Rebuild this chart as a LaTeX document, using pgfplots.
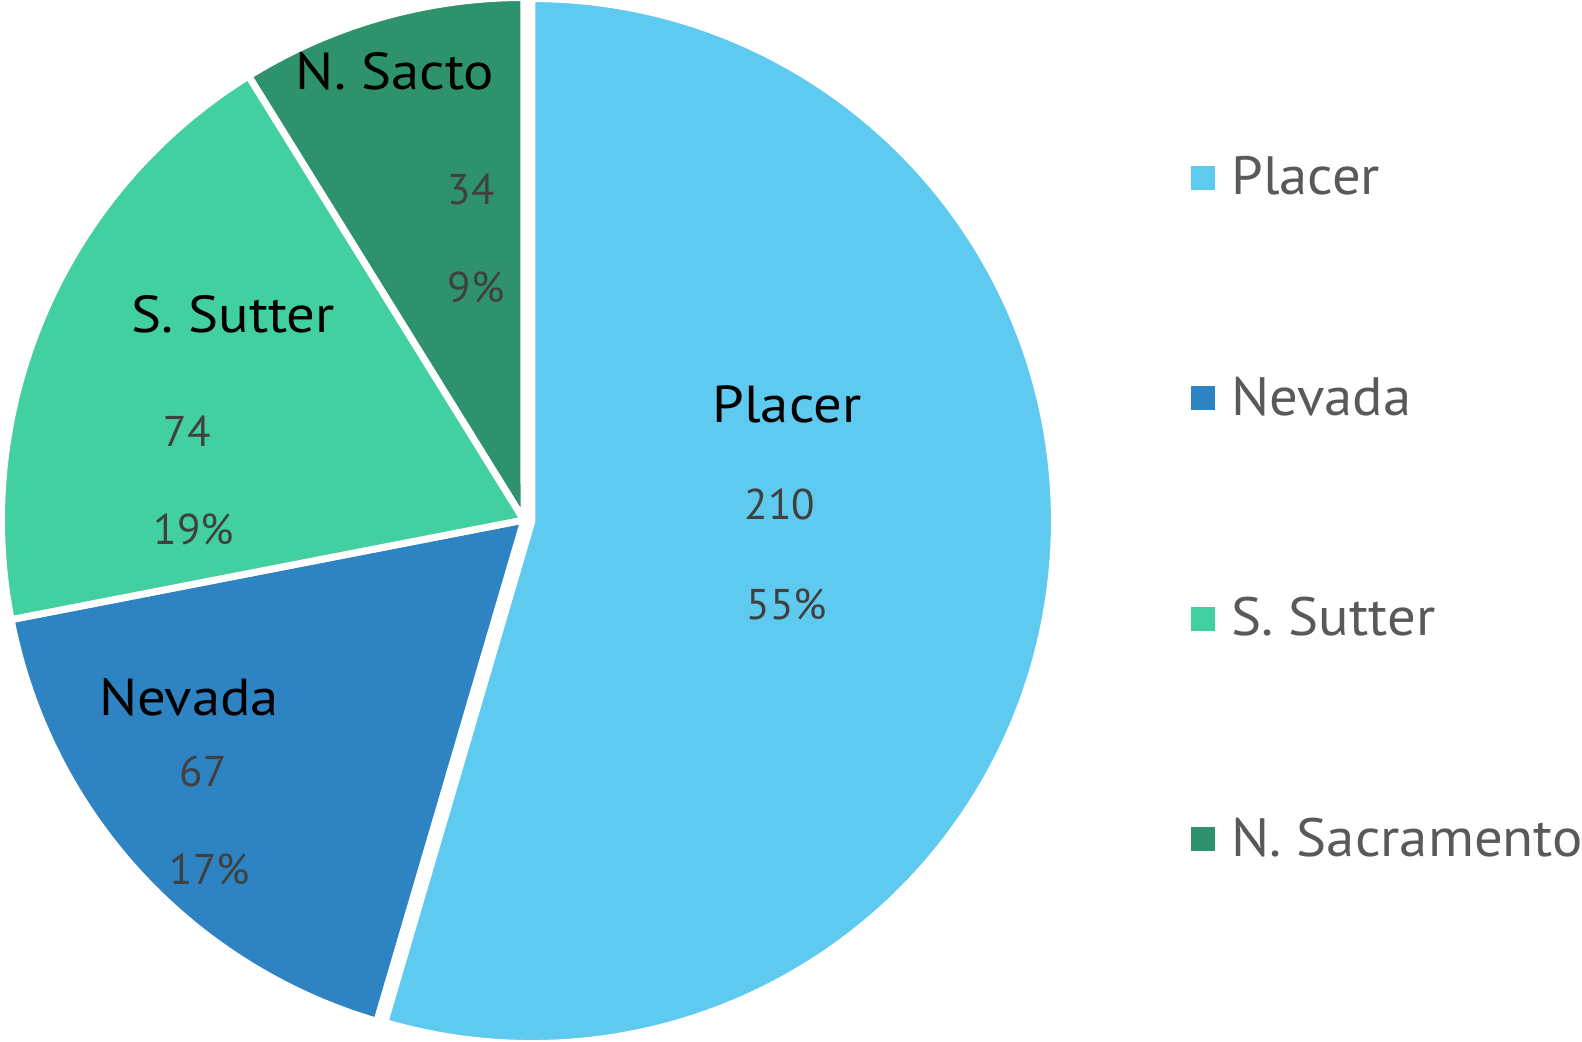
\documentclass[border=0pt]{standalone}
\usepackage{pgfplots}
\pgfplotsset{compat=1.18}
\usepackage{pgfplotstable}
\usepackage{fontspec}
\setmainfont{PT Sans}
\newfontfamily\namefont{PT Sans}[FakeStretch=1.09]
\newfontfamily\legfont{PT Sans}[FakeStretch=1.05]
\definecolor{cPlacer}{RGB}{94,202,239}
\definecolor{cNevada}{RGB}{46,131,194}
\definecolor{cSutter}{RGB}{66,208,162}
\definecolor{cSacto}{RGB}{46,147,108}
\definecolor{cLab}{RGB}{64,64,64}
\definecolor{cLeg}{RGB}{89,89,89}
\pgfplotstableread{
name value
Placer 210
Nevada 67
SSutter 74
NSacto 34
}\piedata
\begin{document}
\begin{tikzpicture}
\pgfplotstablegetelem{0}{value}\of\piedata\let\vA\pgfplotsretval
\pgfplotstablegetelem{1}{value}\of\piedata\let\vB\pgfplotsretval
\pgfplotstablegetelem{2}{value}\of\piedata\let\vC\pgfplotsretval
\pgfplotstablegetelem{3}{value}\of\piedata\let\vD\pgfplotsretval
\pgfmathsetmacro\tot{\vA+\vB+\vC+\vD}
\pgfmathsetmacro\fA{\vA/\tot}
\pgfmathsetmacro\fB{\vB/\tot}
\pgfmathsetmacro\fC{\vC/\tot}
\pgfmathsetmacro\fD{\vD/\tot}
\pgfmathsetmacro\aA{90-360*\fA}
\pgfmathsetmacro\aB{\aA-360*\fB}
\pgfmathsetmacro\aC{\aB-360*\fC}
\pgfmathsetmacro\aD{\aC-360*\fD}
\pgfmathtruncatemacro\pA{round(100*\fA)}
\pgfmathtruncatemacro\pB{round(100*\fB)}
\pgfmathtruncatemacro\pC{round(100*\fC)}
\pgfmathtruncatemacro\pD{round(100*\fD)}
\def\R{261.25pt}
\begin{axis}[x=0.5pt,y=0.5pt,xmin=0,xmax=1582,ymin=0,ymax=1042,
  hide axis,clip=false,scale only axis,anchor=south west,at={(0,0)}]
\fill[cPlacer,draw=white,line width=3.5pt] (axis cs:531.9,520.9) -- ++(90:\R) arc[start angle=90,end angle=\aA,radius=\R] -- cycle;
\fill[cNevada,draw=white,line width=3.5pt] (axis cs:524,522) -- ++(\aA:\R) arc[start angle=\aA,end angle=\aB,radius=\R] -- cycle;
\fill[cSutter,draw=white,line width=3.5pt] (axis cs:524,522) -- ++(\aB:\R) arc[start angle=\aB,end angle=\aC,radius=\R] -- cycle;
\fill[cSacto,draw=white,line width=3.5pt] (axis cs:524,522) -- ++(\aC:\R) arc[start angle=\aC,end angle=\aD,radius=\R] -- cycle;
% labels
\tikzset{nm/.style={anchor=base,font=\namefont\fontsize{26}{30}\selectfont,text=black,inner sep=0pt},
         vl/.style={anchor=base,font=\fontsize{21.5}{26}\selectfont,text=cLab,inner sep=0pt},
         lg/.style={anchor=base west,font=\legfont\fontsize{27}{32}\selectfont,text=cLeg,inner sep=0pt}}
\node[nm] at (axis cs:787,619) {Placer};
\node[vl] at (axis cs:780,522) {\vA};
\node[vl] at (axis cs:787,422) {\pA\%};
\node[nm] at (axis cs:189,326) {Nevada};
\node[vl] at (axis cs:203,255) {\vB};
\node[vl] at (axis cs:210,157) {\pB\%};
\node[nm] at (axis cs:233,709) {S. Sutter};
\node[vl] at (axis cs:187,595) {\vC};
\node[vl] at (axis cs:194,497) {\pC\%};
\node[nm] at (axis cs:395,952) {N. Sacto};
\node[vl] at (axis cs:471,837) {\vD};
\node[vl] at (axis cs:476,739) {\pD\%};
% legend
\fill[cPlacer] (axis cs:1191,852) rectangle (axis cs:1215,876);
\fill[cNevada] (axis cs:1191,631.5) rectangle (axis cs:1215,655.5);
\fill[cSutter] (axis cs:1191,411) rectangle (axis cs:1215,435);
\fill[cSacto] (axis cs:1191,190.5) rectangle (axis cs:1215,214.5);
\node[lg] at (axis cs:1231,847) {Placer};
\node[lg] at (axis cs:1231,626.5) {Nevada};
\node[lg] at (axis cs:1231,406) {S. Sutter};
\node[lg] at (axis cs:1231,185.5) {N. Sacramento};
\end{axis}
\pgfresetboundingbox
\useasboundingbox (0,0) rectangle (791pt,521pt);
\end{tikzpicture}
\end{document}
